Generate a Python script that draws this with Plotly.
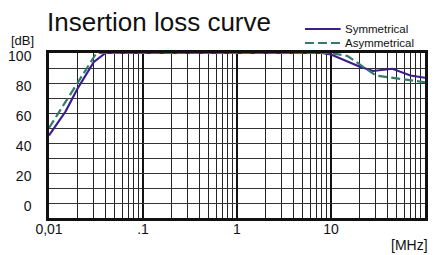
import plotly.graph_objects as go

# ---- data ----
freq_sym = [0.01, 0.015, 0.02, 0.03, 0.04, 8, 10, 20, 28, 45, 70, 100]
loss_sym = [45, 61, 76, 94, 100, 100, 99, 91, 88, 89.5, 85, 83.5]

freq_asym = [0.01, 0.02, 0.032, 10, 15, 30, 45, 70, 100]
loss_asym = [50, 80, 100, 100, 98, 85, 83.5, 82, 80.5]

series_names = ["Symmetrical", "Asymmetrical"]

x_tickvals = [0.01, 0.1, 1, 10, 100]
x_ticktext = ["0,01", ".1", "1", "10", "100\u00a0\u00a0\u00a0\u00a0\u00a0"]
y_tickvals = [0, 20, 40, 60, 80, 100]
y_ticktext = ["0", "20", "40", "60", "80", "100"]
decades = [0.01, 0.1, 1, 10]
x_minor = [round(m * d, 6) for d in decades for m in range(2, 10)]

PURPLE = "#3a1e8c"
TEAL = "#347a6a"
FONT = "Liberation Sans, Arial, sans-serif"
W, H = 436, 255
L, R, T, B = 49, 8, 53, 37
PW, PH = W - L - R, H - T - B


def px(xp):
    return (xp - L) / PW


def py(yp):
    return (H - B - yp) / PH


styles = [dict(color=PURPLE, width=2.2), dict(color=TEAL, width=2.2, dash="9px,4px")]

fig = go.Figure()
fig.add_trace(go.Scatter(x=freq_sym, y=loss_sym, mode="lines", name=series_names[0],
                         line=styles[0], showlegend=False))
fig.add_trace(go.Scatter(x=freq_asym, y=loss_asym, mode="lines", name=series_names[1],
                         line=styles[1], showlegend=False))

fig.update_layout(
    width=W, height=H,
    margin=dict(l=L, r=R, t=T, b=B),
    paper_bgcolor="white", plot_bgcolor="white",
    font=dict(family=FONT, color="#111", size=14),
    title=dict(text="Insertion loss curve", x=47 / W, xanchor="left",
               y=1 - 22 / H, yanchor="middle", yref="container",
               font=dict(size=26, color="#111", family=FONT)),
    showlegend=False,
)

fig.update_xaxes(
    type="log", range=[-2, 2],
    tickvals=x_tickvals, ticktext=x_ticktext,
    showgrid=True, gridcolor="#111", gridwidth=2.2,
    minor=dict(tickvals=x_minor, showgrid=True, gridcolor="#222", gridwidth=1.4),
    showline=True, linecolor="#111", linewidth=2.5, mirror=True,
    ticks="", ticklabelstandoff=-4,
    tickfont=dict(size=14, family=FONT, color="#111"),
    zeroline=False,
)
fig.update_yaxes(
    range=[-10, 100],
    tickvals=y_tickvals, ticktext=y_ticktext,
    showgrid=True, gridcolor="#333", gridwidth=1.4,
    minor=dict(dtick=10, showgrid=True, gridcolor="#333", gridwidth=1.4),
    showline=True, linecolor="#111", linewidth=2.5, mirror=True,
    ticks="", ticklabelstandoff=12, ticklabelshift=3,
    tickfont=dict(size=14, family=FONT, color="#111"),
    zeroline=False,
)

# axis unit labels
fig.add_annotation(text="[dB]", xref="paper", yref="paper", x=px(36), y=py(40.5),
                   xanchor="right", yanchor="middle", showarrow=False,
                   font=dict(size=13, family=FONT, color="#111"))
fig.add_annotation(text="[MHz]", xref="paper", yref="paper", x=px(433), y=py(245),
                   xanchor="right", yanchor="middle", showarrow=False,
                   font=dict(size=14, family=FONT, color="#111"))

# legend (drawn as keys + labels)
for i, (name, st) in enumerate(zip(series_names, styles)):
    yc = 29 + 14 * i
    fig.add_shape(type="line", xref="paper", yref="paper",
                  x0=px(307), x1=px(343), y0=py(yc), y1=py(yc),
                  line=dict(color=st["color"], width=2.2, dash=st.get("dash", "solid")))
    fig.add_annotation(text=name, xref="paper", yref="paper", x=px(345), y=py(yc),
                       xanchor="left", yanchor="middle", showarrow=False,
                       font=dict(size=11.5, family=FONT, color="#111"))

fig.write_html("out.html", config={"displayModeBar": False},
               post_script="document.body.style.margin='0';document.body.style.padding='0';")
